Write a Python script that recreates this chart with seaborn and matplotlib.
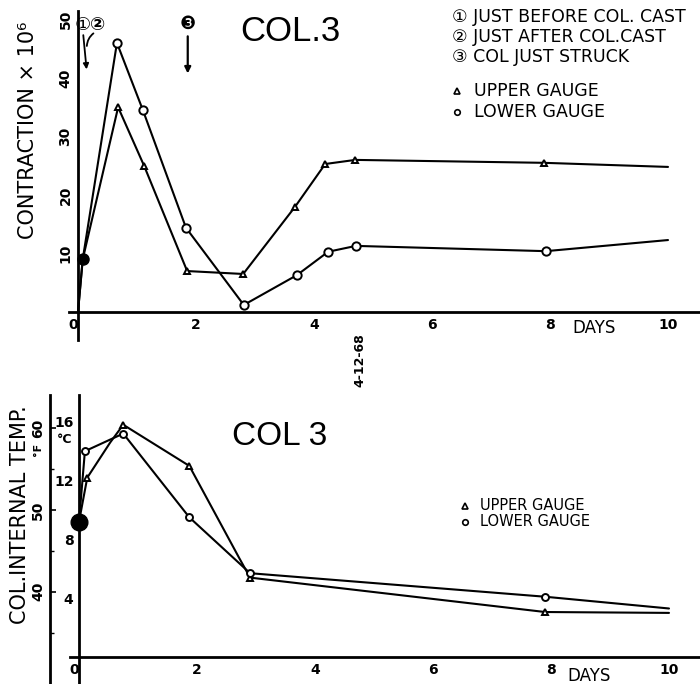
import numpy as np
import pandas as pd
import matplotlib
matplotlib.use("Agg")
import matplotlib.pyplot as plt
import seaborn as sns

# ---------------- data ----------------
# Top panel: contraction x 10^6 vs days
upper_days = [0, 0.08, 0.68, 1.12, 1.85, 2.80, 3.68, 4.19, 4.70, 7.90, 10.0]
upper_contr = [0, 9, 35, 25, 7, 6.5, 18, 25.3, 26, 25.5, 24.8]
upper_contr_marked = [False, False, True, True, True, True, True, True, True, True, False]

lower_days = [0, 0.08, 0.66, 1.10, 1.83, 2.81, 3.71, 4.24, 4.71, 7.93, 10.0]
lower_contr = [0, 9, 46, 34.5, 14.4, 1.2, 6.3, 10.3, 11.3, 10.4, 12.3]
lower_contr_marked = [False, False, True, True, True, True, True, True, True, True, False]

# Bottom panel: column internal temperature (deg C) vs days
upper_t_days = [0, 0.14, 0.53, 0.75, 1.87, 2.72, 2.90, 7.90, 10.0]
upper_temp = [9.2, 12.2, 14.6, 15.8, 13.0, 6.7, 5.4, 3.06, 3.0]
upper_temp_marked = [False, True, False, True, True, False, True, True, False]

lower_t_days = [0, 0.10, 0.75, 1.87, 2.90, 7.90, 10.0]
lower_temp = [9.2, 14.0, 15.2, 9.5, 5.7, 4.1, 3.3]
lower_temp_marked = [False, True, True, True, True, True, False]

x_ticks = [0, 2, 4, 6, 8, 10]
contr_ticks = [10, 20, 30, 40, 50]
c_ticks = [4, 8, 12, 16]
f_ticks = [40, 50, 60]

legend_events = ["\u2460 JUST BEFORE COL. CAST", "\u2461 JUST AFTER COL.CAST", "\u2462 COL JUST STRUCK"]
legend_gauges = ["UPPER GAUGE", "LOWER GAUGE"]

# ---------------- style ----------------
sns.set_theme(style="white")
FAM = ["DejaVu Sans", "Noto Sans CJK JP"]
TITLE_FAM = ["Liberation Sans", "DejaVu Sans"]
plt.rcParams["font.family"] = FAM
plt.rcParams["axes.linewidth"] = 2.0
plt.rcParams["text.color"] = "black"
plt.rcParams["xtick.color"] = "black"
plt.rcParams["ytick.color"] = "black"

fig = plt.figure(figsize=(7, 6.84), dpi=100)

def frame(ax, xlim, ylim):
    ax.set_xlim(*xlim)
    ax.set_ylim(*ylim)
    for s in ["top", "right"]:
        ax.spines[s].set_visible(False)
    ax.spines["left"].set_position(("data", 0))
    ax.spines["bottom"].set_position(("data", 0))
    ax.spines["left"].set_color("black")
    ax.spines["bottom"].set_color("black")
    ax.set_facecolor("white")
    ax.tick_params(direction="in", length=4, width=1.2, colors="black",
                   labelsize=10, pad=4)


def draw_series(ax, days, vals, marked, marker, face, ms):
    df = pd.DataFrame({"day": days, "val": vals, "marked": marked})
    sns.lineplot(data=df, x="day", y="val", sort=False, ax=ax, color="black",
                 lw=1.5, estimator=None)
    m = df[df["marked"]]
    ax.plot(m["day"], m["val"], ls="none", marker=marker, ms=ms,
            mfc=face, mec="black", mew=1.4, zorder=5)
    ax.set_xlabel("")
    ax.set_ylabel("")


# ================= TOP PANEL =================
ax1 = fig.add_axes([0, 1 - 345 / 684, 1, 345 / 684])
frame(ax1, (-78 / 59, 622 / 59), (-33 / 5.85, 312 / 5.85))
draw_series(ax1, upper_days, upper_contr, upper_contr_marked, "^", "white", 5)
draw_series(ax1, lower_days, lower_contr, lower_contr_marked, "o", "white", 6)
ax1.plot([0.08], [9], marker="o", ms=8, color="black", zorder=6)
ax1.spines["left"].set_bounds(-4.8, 51.5)
ax1.spines["bottom"].set_bounds(-0.15, 10.54)
ax1.set_xticks(x_ticks)
ax1.set_xticklabels([str(t) for t in x_ticks], fontweight="bold")
ax1.set_xticks([1, 3, 5, 7, 9], minor=True)
ax1.tick_params(axis="x", which="minor", direction="in", length=3, width=1)
ax1.set_yticks(contr_ticks)
ax1.set_yticklabels([str(t) for t in contr_ticks], rotation=90, va="center",
                    fontweight="bold")
ax1.get_xticklabels()[0].set_horizontalalignment("right")

ax1.text(3.6, 48.0, "COL.3", fontsize=25, ha="center", va="center",
         family=TITLE_FAM)
ax1.text(8.75, -2.8, "DAYS", fontsize=12, ha="center", va="center")

# event markers
ax1.text(0.085, 49.1, "\u2460", fontsize=13, ha="center", va="center", family=FAM)
ax1.text(0.34, 49.1, "\u2461", fontsize=13, ha="center", va="center", family=FAM,
         fontweight="bold")
ax1.text(1.86, 49.2, "\u2778", fontsize=13, ha="center", va="center", family=FAM)
ax1.annotate("", xy=(1.86, 40.3), xytext=(1.86, 47.6),
             arrowprops=dict(arrowstyle="-|>", color="black", lw=1.6,
                             mutation_scale=9))
ax1.annotate("", xy=(0.15, 41.0), xytext=(0.085, 47.8),
             arrowprops=dict(arrowstyle="-|>", color="black", lw=1.3,
                             mutation_scale=8))
ax1.annotate("", xy=(0.15, 45.0), xytext=(0.30, 47.9),
             arrowprops=dict(arrowstyle="-", color="black", lw=1.3,
                             connectionstyle="arc3,rad=0.3"))

# legend (text)
lx = (452 - 78) / 59
for i, t in enumerate(legend_events):
    ax1.text(lx, (312 - (17 + 20 * i)) / 5.85, t, fontsize=12.5, ha="left",
             va="center", family=FAM)
ax1.plot([lx + 0.08], [(312 - 91) / 5.85], ls="none", marker="^", ms=4,
         mfc="white", mec="black", mew=1.2)
ax1.plot([lx + 0.08], [(312 - 112) / 5.85], ls="none", marker="o", ms=4,
         mfc="white", mec="black", mew=1.2)
for i, t in enumerate(legend_gauges):
    ax1.text(lx + 0.38, (312 - (91 + 21 * i)) / 5.85, t, fontsize=12.5,
             ha="left", va="center")

fig.text(28 / 700, 1 - 130 / 684, "CONTRACTION \u00d7 10\u2076", rotation=90,
         fontsize=15, ha="center", va="center")
fig.text(360 / 700, 1 - 360 / 684, "4-12-68", rotation=90, fontsize=9,
         ha="center", va="center", fontweight="bold")

# ================= BOTTOM PANEL =================
ax2 = fig.add_axes([0, 0, 1, 1 - 395 / 684])
frame(ax2, (-79 / 59, 621 / 59), (-27 / 14.7, 262 / 14.7))
draw_series(ax2, upper_t_days, upper_temp, upper_temp_marked, "^", "white", 5)
draw_series(ax2, lower_t_days, lower_temp, lower_temp_marked, "o", "white", 5)
ax2.plot([0], [9.2], marker="o", ms=12, color="black", zorder=6)
ax2.spines["bottom"].set_bounds(-0.15, 10.525)
ax2.set_xticks(x_ticks)
ax2.set_xticklabels([str(t) for t in x_ticks], fontweight="bold")
ax2.get_xticklabels()[0].set_horizontalalignment("right")
ax2.set_xticks([1, 3, 5, 7, 9], minor=True)
ax2.tick_params(axis="x", which="minor", direction="in", length=3, width=1)
ax2.set_yticks(c_ticks)
ax2.set_yticklabels([str(t) for t in c_ticks], fontweight="bold")
ax2.set_yticks([2, 6, 10, 14], minor=True)
ax2.tick_params(axis="y", which="minor", direction="in", length=3, width=1)


def c2f(c):
    return c * 9 / 5 + 32


def f2c(f):
    return (f - 32) * 5 / 9


sec = ax2.secondary_yaxis(50 / 700, functions=(c2f, f2c))
sec.set_yticks(f_ticks)
sec.set_yticklabels([str(t) for t in f_ticks], rotation=90, va="center",
                    fontweight="bold")
sec.set_yticks([35, 45, 55], minor=True)
sec.tick_params(direction="in", length=4, width=1.2, labelsize=10, colors="black")
sec.tick_params(which="minor", direction="in", length=3, width=1)
sec.spines["left"].set_linewidth(2.0)
sec.spines["left"].set_color("black")

ax2.text(-0.25, 14.8, "\u00b0C", fontsize=9, ha="center", va="center",
         fontweight="bold")
ax2.text(-0.70, 14.1, "\u00b0F", fontsize=8, ha="center", va="center",
         rotation=90, fontweight="bold")
ax2.text(3.4, 15.0, "COL 3", fontsize=24, ha="center", va="center",
         family=TITLE_FAM)
ax2.text(8.65, -1.3, "DAYS", fontsize=12, ha="center", va="center")

gx = (465 - 79) / 59
ax2.plot([gx], [(657 - 506) / 14.7], ls="none", marker="^", ms=4,
         mfc="white", mec="black", mew=1.2)
ax2.plot([gx], [(657 - 522) / 14.7], ls="none", marker="o", ms=4,
         mfc="white", mec="black", mew=1.2)
for i, t in enumerate(legend_gauges):
    ax2.text(gx + 0.25, (657 - (506 + 16 * i)) / 14.7, t, fontsize=10.5,
             ha="left", va="center")

fig.text(20 / 700, 1 - 515 / 684, "COL.INTERNAL TEMP.", rotation=90,
         fontsize=15, ha="center", va="center")

fig.savefig("out.png", dpi=100, facecolor="white")
